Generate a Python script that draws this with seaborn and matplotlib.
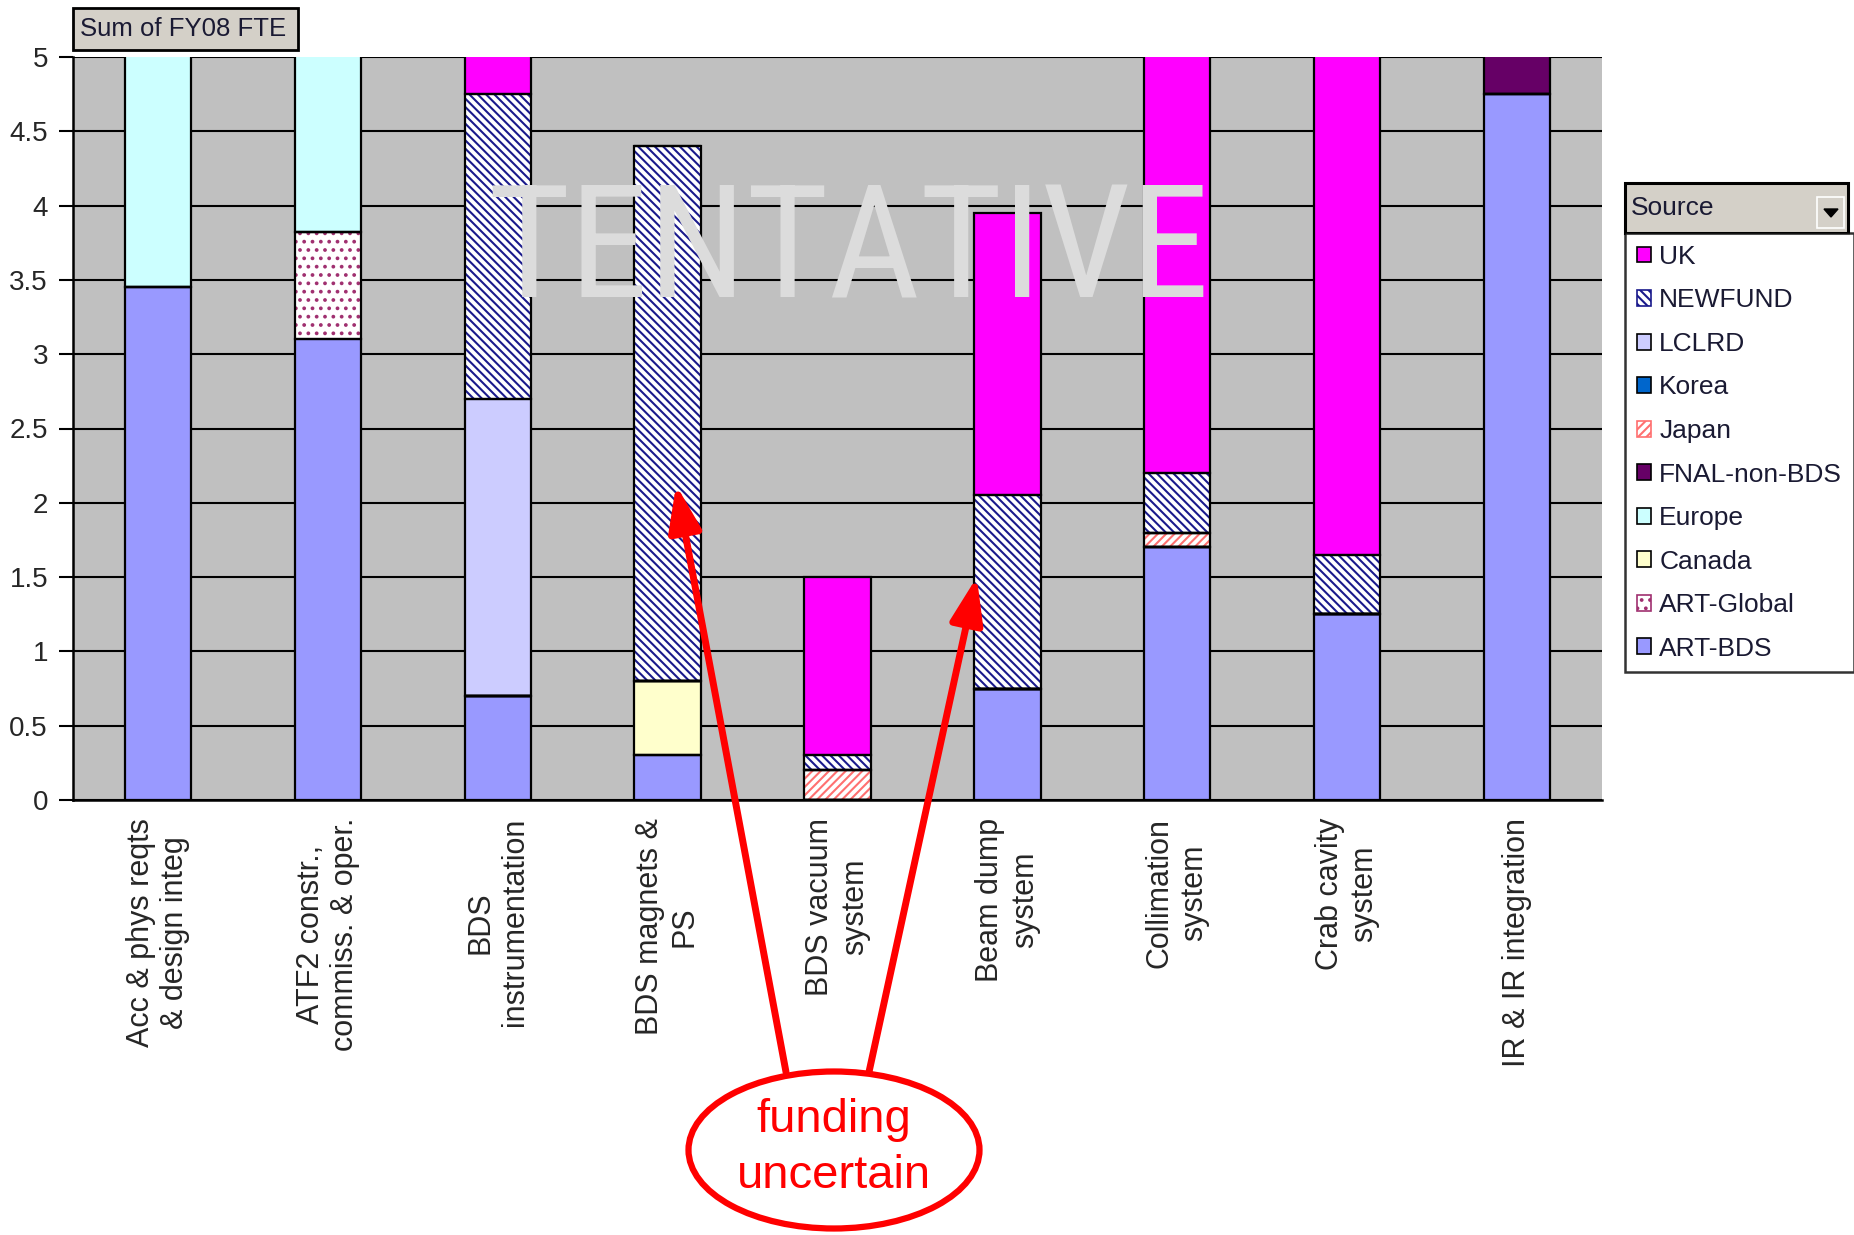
import matplotlib
matplotlib.use("Agg")
import matplotlib.pyplot as plt
from matplotlib.patches import Patch, Rectangle, Ellipse, Polygon
import numpy as np
import seaborn as sns

# ---------------- data ----------------
categories = ["Acc & phys reqts\n& design integ", "ATF2 constr.,\ncommiss. & oper.",
              "BDS\ninstrumentation", "BDS magnets &\nPS", "BDS vacuum\nsystem",
              "Beam dump\nsystem", "Collimation\nsystem", "Crab cavity\nsystem",
              "IR & IR integration"]
cat_keys = ["c%d" % i for i in range(len(categories))]

sources = ["ART-BDS", "ART-Global", "Canada", "Europe", "FNAL-non-BDS",
           "Japan", "Korea", "LCLRD", "NEWFUND", "UK"]
art_bds    = [3.45, 3.10, 0.70, 0.30, 0.00, 0.75, 1.70, 1.25, 4.75]
art_global = [0.00, 0.72, 0.00, 0.00, 0.00, 0.00, 0.00, 0.00, 0.00]
canada     = [0.00, 0.00, 0.00, 0.50, 0.00, 0.00, 0.00, 0.00, 0.00]
europe     = [1.60, 1.20, 0.00, 0.00, 0.00, 0.00, 0.00, 0.00, 0.00]
fnal       = [0.00, 0.00, 0.00, 0.00, 0.00, 0.00, 0.00, 0.00, 0.30]
japan      = [0.00, 0.00, 0.00, 0.00, 0.20, 0.00, 0.10, 0.00, 0.00]
korea      = [0.00, 0.00, 0.00, 0.00, 0.00, 0.00, 0.00, 0.00, 0.00]
lclrd      = [0.00, 0.00, 2.00, 0.00, 0.00, 0.00, 0.00, 0.00, 0.00]
newfund    = [0.00, 0.00, 2.05, 3.60, 0.10, 1.30, 0.40, 0.40, 0.00]
uk         = [0.00, 0.00, 0.30, 0.00, 1.20, 1.90, 2.90, 3.40, 0.00]
series = [art_bds, art_global, canada, europe, fnal, japan, korea, lclrd, newfund, uk]

yticks = [0, 0.5, 1, 1.5, 2, 2.5, 3, 3.5, 4, 4.5, 5]
ytick_labels = ["0", "0.5", "1", "1.5", "2", "2.5", "3", "3.5", "4", "4.5", "5"]

# ---------------- styles ----------------
styles = {
    "ART-BDS":      dict(face="#9999FF", hatch=None, hcol=None),
    "ART-Global":   dict(face="white",   hatch="..",   hcol="#A03070"),
    "Canada":       dict(face="#FFFFCC", hatch=None, hcol=None),
    "Europe":       dict(face="#CCFFFF", hatch=None, hcol=None),
    "FNAL-non-BDS": dict(face="#660066", hatch=None, hcol=None),
    "Japan":        dict(face="white",   hatch="////", hcol="#FF7070"),
    "Korea":        dict(face="#0066CC", hatch=None, hcol=None),
    "LCLRD":        dict(face="#CCCCFF", hatch=None, hcol=None),
    "NEWFUND":      dict(face="white",   hatch="\\\\\\\\", hcol="#1A1A8C"),
    "UK":           dict(face="#FF00FF", hatch=None, hcol=None),
}

W, H = 1854, 1235
sns.set_style("white")
plt.rcParams["font.family"] = ["Liberation Sans", "DejaVu Sans"]
plt.rcParams["hatch.linewidth"] = 1.5

fig = plt.figure(figsize=(W / 100, H / 100), dpi=100)
ax = fig.add_axes([73 / W, 1 - 800 / H, (1602 - 73) / W, (800 - 57) / H])
ax.set_facecolor("#C0C0C0")

bottom = np.zeros(len(cat_keys))
for name, vals in zip(sources, series):
    st = styles[name]
    vals = np.array(vals, dtype=float)
    if st["hatch"] is None:
        sns.barplot(x=cat_keys, y=vals, order=cat_keys, bottom=bottom, color=st["face"],
                    saturation=1, width=0.39, errorbar=None, linewidth=0, ax=ax, zorder=2)
    else:
        sns.barplot(x=cat_keys, y=vals, order=cat_keys, bottom=bottom, color=st["face"],
                    saturation=1, width=0.39, errorbar=None, linewidth=0,
                    edgecolor=st["hcol"], hatch=st["hatch"], ax=ax, zorder=2)
    sns.barplot(x=cat_keys, y=vals, order=cat_keys, bottom=bottom, color="black",
                fill=False, saturation=1, width=0.39, errorbar=None, linewidth=1.6,
                edgecolor="black", ax=ax, zorder=3)
    bottom = bottom + vals

ax.set_xlim(-0.5, len(cat_keys) - 0.5)
ax.set_ylim(0, 5)
ax.set_yticks(yticks)
ax.set_yticklabels(ytick_labels, fontsize=20)
ax.yaxis.grid(True, color="black", linewidth=1.5, zorder=1)
ax.xaxis.grid(False)
ax.set_axisbelow(True)
ax.set_xticks(range(len(cat_keys)))
ax.set_xticklabels(categories, rotation=90, ha="center", va="top",
                   multialignment="center", fontsize=22)
ax.set_xticks(np.arange(-0.5, len(cat_keys), 1.0), minor=True)
ax.tick_params(axis="x", which="major", length=0, pad=13)
ax.tick_params(axis="x", which="minor", length=10, width=1.5, direction="out", color="black")
ax.tick_params(axis="y", which="major", length=10, width=1.5, direction="out", color="black", pad=8, left=True)
ax.set_xlabel("")
ax.set_ylabel("")
for s in ["top", "right"]:
    ax.spines[s].set_visible(False)
for s in ["left", "bottom"]:
    ax.spines[s].set_color("black")
    ax.spines[s].set_linewidth(1.8)

def fx(px):
    return px / W

def fy(py):
    return 1 - py / H

# watermark
fig.text(fx(849), fy(298), "TENTATIVE", fontsize=114, color="#DCDCDC",
         family=["Roboto Condensed", "Liberation Sans Narrow", "Liberation Sans"],
         ha="center", va="baseline", zorder=10)

# "Sum of FY08 FTE" field button
fig.patches.append(Rectangle((fx(73), fy(50)), fx(298) - fx(73), fy(8) - fy(50),
                             transform=fig.transFigure, facecolor="#D4D0C8",
                             edgecolor="black", linewidth=2, zorder=5))
fig.text(fx(80), fy(29), "Sum of FY08 FTE", fontsize=18.5, ha="left", va="center",
         color="#1a1a33", zorder=6)

# legend
handles = []
for name in sources[::-1]:
    st = styles[name]
    if st["hatch"] is None:
        handles.append(Patch(facecolor=st["face"], edgecolor="black", linewidth=1.2))
    else:
        handles.append(Patch(facecolor="white", edgecolor=st["hcol"], hatch=st["hatch"], linewidth=1.2))
leg = fig.legend(handles, sources[::-1], loc="upper left",
                 bbox_to_anchor=(fx(1625), fy(233)), frameon=True, fancybox=False,
                 edgecolor="black", fontsize=19, handlelength=0.55, handleheight=0.55,
                 handletextpad=0.3, labelspacing=0.74, borderpad=0.45, borderaxespad=0)
leg.get_frame().set_linewidth(1.8)
for t in leg.get_texts():
    t.set_color("#1a1a33")

# legend header "Source"
fig.patches.append(Rectangle((fx(1625), fy(233)), fx(1848) - fx(1625), fy(183) - fy(233),
                             transform=fig.transFigure, facecolor="#D4D0C8",
                             edgecolor="black", linewidth=2.2, zorder=5))
fig.text(fx(1631), fy(208), "Source", fontsize=19, ha="left", va="center",
         color="#1a1a33", zorder=6)
fig.patches.append(Rectangle((fx(1817), fy(228)), fx(1844) - fx(1817), fy(197) - fy(228),
                             transform=fig.transFigure, facecolor="#D4D0C8",
                             edgecolor="white", linewidth=1.2, zorder=6))
fig.patches.append(Polygon([(fx(1824), fy(209)), (fx(1838), fy(209)), (fx(1831), fy(217))],
                           closed=True, transform=fig.transFigure, facecolor="black",
                           edgecolor="black", zorder=7))

# annotation: ellipse + arrows
fig.patches.append(Ellipse((fx(834), fy(1150)), fx(291), 157 / H, transform=fig.transFigure,
                           facecolor="white", edgecolor="red", linewidth=4.5, zorder=8))
fig.text(fx(834), fy(1148), "funding\nuncertain", fontsize=34, color="red",
         ha="center", va="center", multialignment="center", linespacing=1.35, zorder=9)

arrow_props = dict(arrowstyle="-|>,head_length=1.4,head_width=0.5", color="red",
                   lw=5, mutation_scale=20, shrinkA=0, shrinkB=0)
ax.annotate("", xy=(3.05, 2.12), xycoords="data", xytext=(786, H - 1072),
            textcoords="figure pixels", arrowprops=arrow_props, annotation_clip=False, zorder=9)
ax.annotate("", xy=(4.82, 1.50), xycoords="data", xytext=(869, H - 1072),
            textcoords="figure pixels", arrowprops=arrow_props, annotation_clip=False, zorder=9)

fig.savefig("out.png", dpi=100)
